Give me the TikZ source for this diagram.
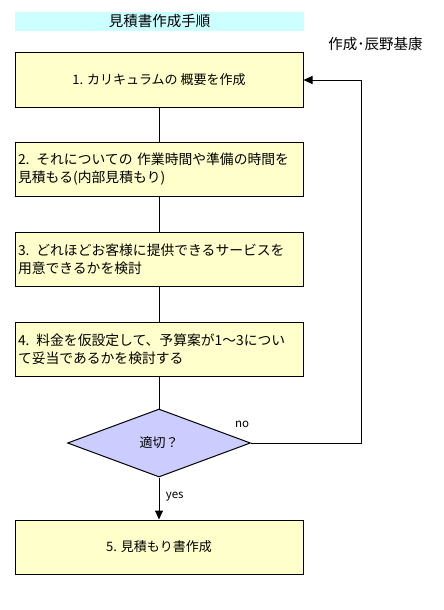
\documentclass[tikz,border=0pt]{standalone}
\usepackage{fontspec}
\setmainfont{Noto Sans CJK JP}
\usepackage{xcolor}
\usetikzlibrary{arrows.meta,shapes.geometric}

\definecolor{boxfill}{HTML}{FFFFCC}
\definecolor{titlefill}{HTML}{CCFFFF}
\definecolor{decfill}{HTML}{CCCCFF}

\begin{document}
\begin{tikzpicture}[x=1pt, y=-1pt,
  box/.style={draw, line width=1pt, fill=boxfill, minimum width=288pt, minimum height=54pt,
              inner sep=3pt, font=\fontsize{13}{18}\selectfont},
  lbox/.style={box, text width=282pt, align=left, font=\fontsize{13.8}{18}\selectfont},
  decision/.style={draw, line width=1pt, fill=decfill, diamond, aspect=2.7, inner sep=0pt,
              minimum width=183pt, minimum height=68pt, font=\fontsize{13}{18}\selectfont},
  line/.style={line width=1pt},
  arrow/.style={line width=1pt, -{Triangle[length=9pt, width=8pt]}},
  note/.style={font=\fontsize{11.5}{13}\selectfont}
]
\useasboundingbox (0,0) rectangle (444,610);
\node[fill=titlefill, minimum width=289pt, minimum height=19pt, inner sep=0pt,
      font=\fontsize{14.5}{15}\selectfont] (title) at (159.5,21.5) {見積書作成手順};
\node[font=\fontsize{14.5}{15}\selectfont, inner sep=0pt] (author) at (375.5,44) {作成･辰野基康};
\node[box] (S1) at (159,80) {1. カリキュラムの 概要を作成};
\node[lbox] (S2) at (159,169.5) {2. それについての 作業時間や準備の時間を\\見積もる(内部見積もり)};
\node[lbox] (S3) at (159,259) {3. どれほどお客様に提供できるサービスを\\用意できるかを検討};
\node[lbox] (S4) at (159,349.5) {4. 料金を仮設定して、予算案が1～3につい\\て妥当であるかを検討する};
\node[decision] (OK) at (159,443) {適切？};
\node[box] (S5) at (159,547) {5. 見積もり書作成};
\coordinate (back) at (361,443);
\draw[line] (S1) -- (S2);
\draw[line] (S2) -- (S3);
\draw[line] (S3) -- (S4);
\draw[line] (S4) -- (OK);
\draw[arrow] (OK) -- (S5) node[pos=0.45, right, note, xshift=3pt] {yes};
\draw[arrow] (OK.east) -- (back) |- (S1.east);
\node[note] (no) at (242,424) {no};
\end{tikzpicture}
\end{document}
